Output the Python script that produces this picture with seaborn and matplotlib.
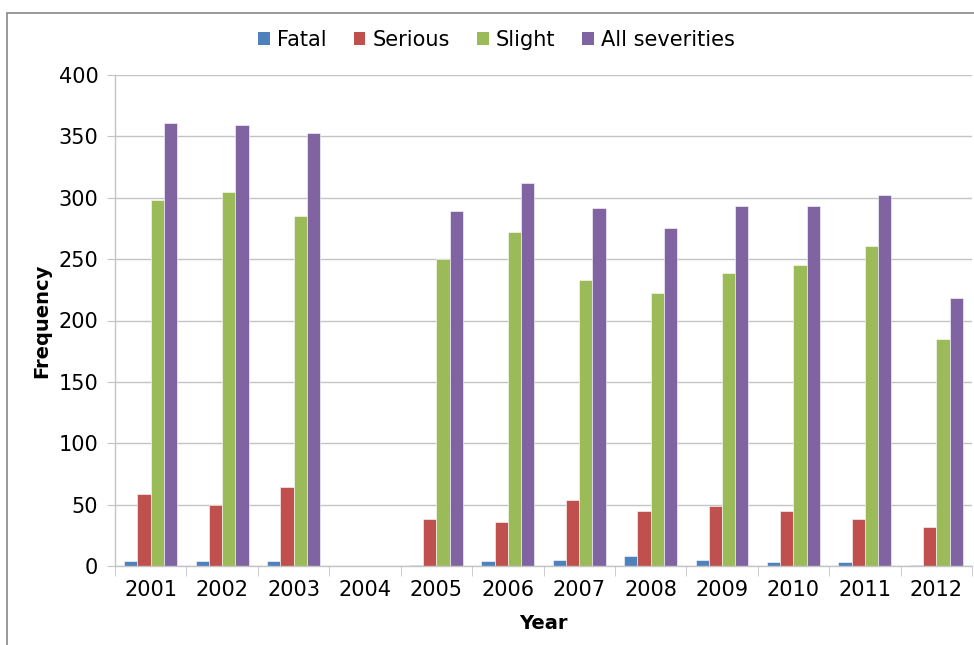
import numpy as np
import pandas as pd
import matplotlib
matplotlib.use("Agg")
import matplotlib.pyplot as plt
import seaborn as sns
from matplotlib.patches import Rectangle, Patch

years = ["2001", "2002", "2003", "2004", "2005", "2006", "2007", "2008", "2009", "2010", "2011", "2012"]
fatal = [4, 4, 4, np.nan, 1, 4, 5, 8, 5, 3, 3, 1]
serious = [59, 50, 64, np.nan, 38, 36, 54, 45, 49, 45, 38, 32]
slight = [298, 305, 285, np.nan, 250, 272, 233, 222, 239, 245, 261, 185]
all_sev = [361, 359, 353, np.nan, 289, 312, 292, 275, 293, 293, 302, 218]
series_names = ["Fatal", "Serious", "Slight", "All severities"]
colors = ["#4F81BD", "#C0504D", "#9BBB59", "#8064A2"]
y_ticks = [0, 50, 100, 150, 200, 250, 300, 350, 400]

rows = []
for name, vals in zip(series_names, [fatal, serious, slight, all_sev]):
    for y, v in zip(years, vals):
        rows.append({"Year": y, "Severity": name, "Frequency": v})
df = pd.DataFrame(rows)

sns.set_style("white")
plt.rcParams['font.family'] = ['DejaVu Sans']
plt.rcParams['text.color'] = 'black'
plt.rcParams['axes.labelcolor'] = 'black'
plt.rcParams['xtick.color'] = 'black'
plt.rcParams['ytick.color'] = 'black'

fig = plt.figure(figsize=(9.74, 6.45), dpi=100)
ax = fig.add_axes([115/974, 1 - 566/645, (972 - 115)/974, (566 - 75)/645])

sns.barplot(data=df, x="Year", y="Frequency", hue="Severity", order=years,
            hue_order=series_names, palette=colors, width=0.74, ax=ax,
            edgecolor="white", linewidth=0.4, legend=False, saturation=1)

ax.set_ylim(0, 400)
ax.set_xlim(-0.5, len(years) - 0.5)
ax.set_yticks(y_ticks)
ax.yaxis.grid(True, color="#C4C4C4", linewidth=1.0)
ax.set_axisbelow(True)
for s in ["top", "right"]:
    ax.spines[s].set_visible(False)
for s in ["left", "bottom"]:
    ax.spines[s].set_color("#C4C4C4")
    ax.spines[s].set_linewidth(1.0)

ax.tick_params(axis="y", which="major", direction="out", length=6, color="#C4C4C4",
               labelcolor="black", labelsize=15, pad=6, left=True)
ax.set_xticks(np.arange(-0.5, len(years), 1.0), minor=True)
ax.tick_params(axis="x", which="minor", direction="out", length=7, color="#C4C4C4", bottom=True)
ax.tick_params(axis="x", which="major", length=0, labelcolor="black", labelsize=15, pad=10)

ax.set_xlabel("Year", fontsize=14, fontweight="bold", labelpad=10, color="black")
ax.set_ylabel("Frequency", fontsize=14, fontweight="bold", labelpad=5, color="black")

handles = [Patch(facecolor=c, edgecolor="none") for c in colors]
fig.legend(handles, series_names, loc="center", bbox_to_anchor=(0.51, 1 - 40/645),
           ncol=4, frameon=False, fontsize=15, handlelength=0.55, handleheight=0.55,
           handletextpad=0.35, columnspacing=1.3)

fig.patches.append(Rectangle((7/974, -0.1), 2.0, (645 - 13)/645 + 0.1,
                             transform=fig.transFigure, fill=False,
                             edgecolor="#888888", linewidth=1.2))

fig.savefig("out.png", dpi=100)
